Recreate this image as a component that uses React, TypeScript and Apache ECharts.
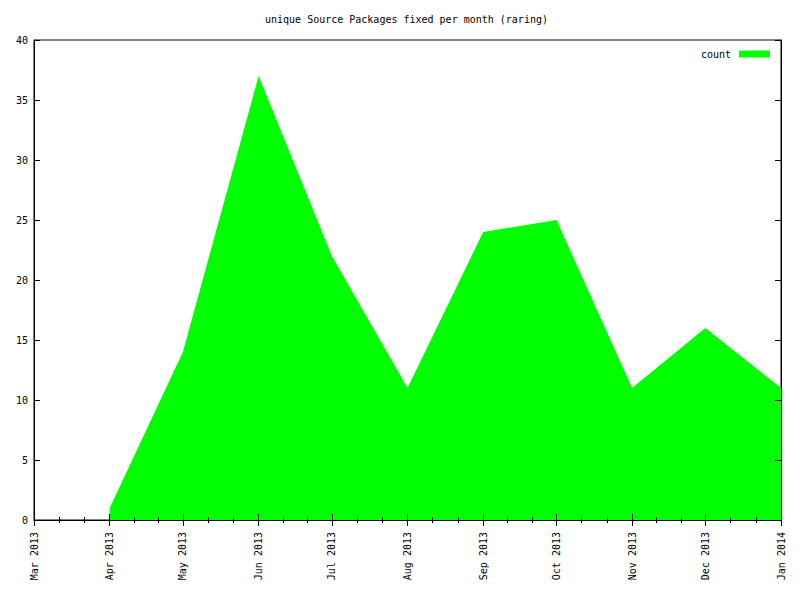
import React, { useEffect, useRef } from "react";
import * as echarts from "echarts";

const months = ["2013-04-01", "2013-05-01", "2013-06-01", "2013-07-01", "2013-08-01", "2013-09-01", "2013-10-01", "2013-11-01", "2013-12-01", "2014-01-01"];
const counts = [1, 14, 37, 22, 11, 24, 25, 11, 16, 11];
const xMin = "2013-03-01";
const xMax = "2014-01-01";
const monthNames = ["Jan", "Feb", "Mar", "Apr", "May", "Jun", "Jul", "Aug", "Sep", "Oct", "Nov", "Dec"];
const titleText = "unique Source Packages fixed per month (raring)";
const seriesName = "count";

const toTs = (s: string) => {
  const [y, m, d] = s.split("-").map(Number);
  return new Date(y, m - 1, d).getTime();
};

const FONT = "DejaVu Sans Mono";

export default function App() {
  const ref = useRef<HTMLDivElement>(null);
  useEffect(() => {
    if (!ref.current) return;
    const chart = echarts.init(ref.current, undefined, { renderer: "svg" });
    const min = toTs(xMin);
    const max = toTs(xMax);
    const fmt = (v: number) => {
      const d = new Date(v);
      return `${monthNames[d.getMonth()]} ${d.getFullYear()}`;
    };
    const xCommon = {
      type: "time" as const,
      min,
      max,
      z: 5,
      minInterval: 28 * 86400000,
      maxInterval: 31 * 86400000,
      axisLine: { show: true, lineStyle: { color: "#000", width: 1 } },
      axisTick: { show: true, inside: true, length: 6, lineStyle: { color: "#000" } },
      minorTick: { show: true, splitNumber: 3, length: 3, lineStyle: { color: "#000" } },
      splitLine: { show: false },
      minorSplitLine: { show: false },
    };
    const yCommon = {
      type: "value" as const,
      min: 0,
      max: 40,
      interval: 5,
      z: 5,
      axisLine: { show: true, lineStyle: { color: "#000", width: 1 } },
      axisTick: { show: true, inside: true, length: 6, lineStyle: { color: "#000" } },
      splitLine: { show: false },
    };
    chart.setOption({
      animation: false,
      backgroundColor: "#fff",
      title: {
        text: titleText,
        left: 260,
        top: 9,
        textStyle: { fontFamily: FONT, fontSize: 10, fontWeight: "normal", color: "#000" },
      },
      legend: {
        show: true,
        right: 25,
        top: 44,
        align: "right",
        icon: "rect",
        itemWidth: 31,
        itemHeight: 7,
        itemGap: 8,
        textStyle: { fontFamily: FONT, fontSize: 10, color: "#000", padding: [0, 3, 0, 0] },
        data: [{ name: seriesName, itemStyle: { color: "#00ff00" } }],
      },
      grid: { left: 34, right: 19, top: 40, bottom: 80, show: true, borderColor: "#000", borderWidth: 1 },
      xAxis: [
        {
          ...xCommon,
          position: "bottom",
          axisLabel: {
            show: true,
            rotate: 90,
            margin: 12,
            fontFamily: FONT,
            fontSize: 10,
            color: "#000",
            showMinLabel: true,
            showMaxLabel: true,
            hideOverlap: false,
            formatter: (v: number) => fmt(v),
          },
        },
        {
          ...xCommon,
          position: "top",
          axisLabel: { show: false },
        },
      ],
      yAxis: [
        {
          ...yCommon,
          position: "left",
          axisLabel: { show: true, margin: 6, fontFamily: FONT, fontSize: 10, color: "#000" },
        },
        {
          ...yCommon,
          position: "right",
          axisLabel: { show: false },
        },
      ],
      series: [
        {
          name: seriesName,
          type: "line",
          xAxisIndex: 0,
          yAxisIndex: 0,
          z: 2,
          data: months.map((m, i) => [toTs(m), counts[i]]),
          showSymbol: false,
          symbol: "none",
          lineStyle: { width: 0, color: "#00ff00" },
          itemStyle: { color: "#00ff00" },
          areaStyle: { color: "#00ff00", opacity: 1 },
        },
      ],
    });
    return () => chart.dispose();
  }, []);
  return <div ref={ref} style={{ width: 800, height: 600, position: "absolute", left: 0, top: 0 }} />;
}
